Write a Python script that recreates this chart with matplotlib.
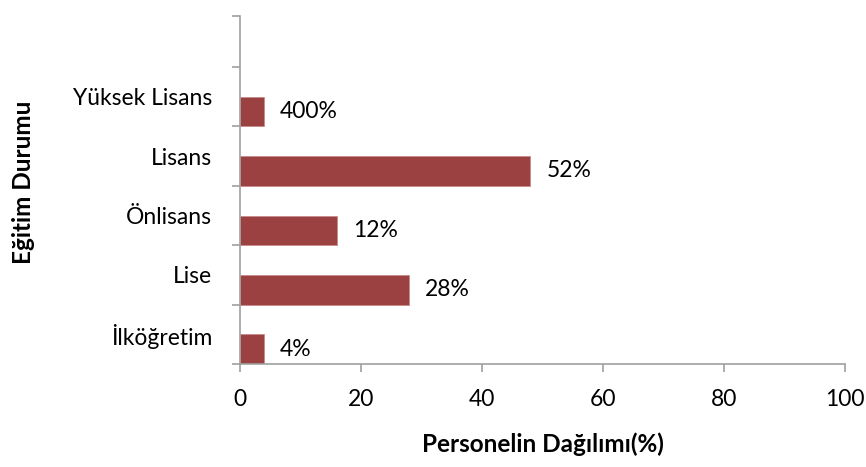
import numpy as np
import matplotlib.pyplot as plt
from matplotlib.ticker import FixedLocator

plt.rcParams['font.family'] = ['Lato', 'DejaVu Sans']

# DATA
categories = ["İlköğretim", "Lise", "Önlisans", "Lisans", "Yüksek Lisans"]
values = [4, 28, 16, 48, 4]
value_labels = ["4%", "28%", "12%", "52%", "400%"]
x_ticks = [0, 20, 40, 60, 80, 100]

bar_color = "#9C4141"
axis_color = "#A0A0A0"
y_top = 5.86

fig = plt.figure(figsize=(8.66, 4.67), dpi=100)
ax = fig.add_axes([0.277, 0.2206, 0.699, 0.7451])

pos = np.arange(len(categories))
ax.barh(pos, values, height=0.5, align="edge", color=bar_color,
        edgecolor="#C98A8A", linewidth=0.6)

for p, v, lab in zip(pos, values, value_labels):
    ax.annotate(lab, (v, p + 0.25), xytext=(11.5, 0), textcoords="offset points",
                va="center", ha="left", fontsize=16.5, color="black")

ax.set_xlim(0, 100)
ax.set_ylim(0, y_top)
ax.set_xticks(x_ticks)
ax.set_xticklabels([str(t) for t in x_ticks], fontsize=16.5)

ax.yaxis.set_major_locator(FixedLocator(list(range(len(categories) + 1)) + [y_top]))
ax.yaxis.set_major_formatter(plt.NullFormatter())
ax.yaxis.set_minor_locator(FixedLocator(pos + 0.5))
ax.set_yticklabels(categories, minor=True, fontsize=16.5)
ax.tick_params(axis="y", which="minor", length=0, pad=20)
ax.tick_params(axis="y", which="major", length=6, color=axis_color, width=1.2)
ax.tick_params(axis="x", length=6, color=axis_color, width=1.2, pad=12)

for s in ["top", "right"]:
    ax.spines[s].set_visible(False)
for s in ["left", "bottom"]:
    ax.spines[s].set_color(axis_color)
    ax.spines[s].set_linewidth(1.2)

ax.set_xlabel("Personelin Dağılımı(%)", fontsize=17.5, fontweight="bold", labelpad=16)
fig.text(0.027, 0.61, "Eğitim Durumu", rotation=90, fontsize=17.5,
         fontweight="bold", ha="center", va="center")

plt.savefig("out.png", dpi=100)
